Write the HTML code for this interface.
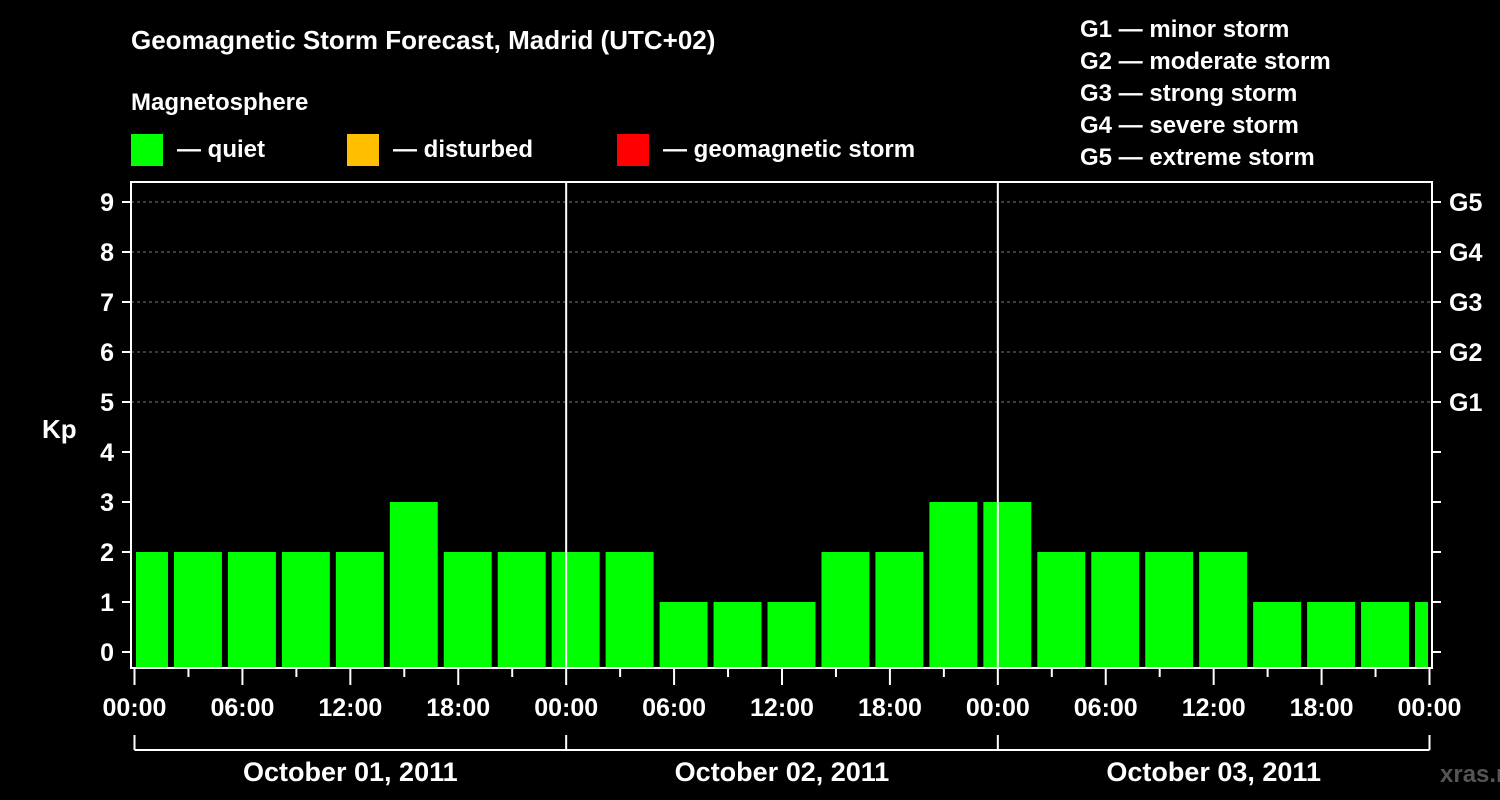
<!DOCTYPE html>
<html><head><meta charset="utf-8"><style>
body{margin:0;background:#000;}
svg{display:block;font-family:"Liberation Sans",sans-serif;font-weight:bold;}
</style></head><body>
<svg id="c" width="1500" height="800" xmlns="http://www.w3.org/2000/svg">
<rect width="1500" height="800" fill="#000"/>
<text x="131" y="49" fill="#fff" font-size="26">Geomagnetic Storm Forecast, Madrid (UTC+02)</text>
<text x="131" y="110" fill="#fff" font-size="24">Magnetosphere</text>
<g><rect x="131" y="134" width="32" height="32" fill="#00ff00"/><text x="177" y="157" fill="#fff" font-size="24">— quiet</text></g>
<g><rect x="347" y="134" width="32" height="32" fill="#ffbf00"/><text x="393" y="157" fill="#fff" font-size="24">— disturbed</text></g>
<g><rect x="617" y="134" width="32" height="32" fill="#ff0000"/><text x="663" y="157" fill="#fff" font-size="24">— geomagnetic storm</text></g>
<g fill="#fff" font-size="24">
<text x="1080" y="37">G1 — minor storm</text><text x="1080" y="69">G2 — moderate storm</text><text x="1080" y="101">G3 — strong storm</text><text x="1080" y="133">G4 — severe storm</text><text x="1080" y="165">G5 — extreme storm</text></g>
<text x="42" y="438" fill="#fff" font-size="26">Kp</text>
<text x="1440" y="782" fill="#555" font-size="24">xras.ru</text>
<g id="plot"></g>
</svg>
<script>
const values=[2,2,2,2,2,3,2,2,2,2,1,1,1,2,2,3,3,2,2,2,2,1,1,1,1];
const yTicks=[0,1,2,3,4,5,6,7,8,9];
const gLabels=["G1","G2","G3","G4","G5"];
const xLabels=["00:00","06:00","12:00","18:00","00:00","06:00","12:00","18:00","00:00","06:00","12:00","18:00","00:00"];
const dates=["October 01, 2011","October 02, 2011","October 03, 2011"];
const X0=134.5,X1=1429.5,PX0=131,PX1=1432,PTOP=182,PBOT=668;
const x=h=>X0+(X1-X0)*h/72;
const y=v=>652-50*v;
const ns="http://www.w3.org/2000/svg";
const P=document.getElementById('plot');
function mk(t,a,p){const e=document.createElementNS(ns,t);for(const k in a)e.setAttribute(k,a[k]);(p||P).appendChild(e);return e;}
// grid
yTicks.forEach(v=>{if(v>=5){const l=mk('line',{x1:PX0,x2:PX1,y1:y(v),y2:y(v),stroke:'#777','stroke-dasharray':'3,3','stroke-width':1});}});
// bars
values.forEach((v,i)=>{let h0=-1+3*i,h1=h0+3;let a=Math.max(x(h0)+3.5,X0+1.5),b=Math.min(x(h1)-2.5,X1-1.5);
const r=mk('rect',{x:a,y:y(v),width:b-a,height:PBOT-1-y(v),fill:v>=5?'#ff0000':(v>=4?'#ffbf00':'#00ff00')});

});
// day separators
[1,2].forEach(d=>{const l=mk('line',{x1:x(24*d),x2:x(24*d),y1:PTOP,y2:PBOT,stroke:'#fff','stroke-width':2});});
// frame
const f=mk('rect',{x:PX0,y:PTOP,width:PX1-PX0,height:PBOT-PTOP,fill:'none',stroke:'#fff','stroke-width':2});

// y ticks
yTicks.forEach(v=>{mk('line',{x1:122,x2:PX0,y1:y(v),y2:y(v),stroke:'#fff','stroke-width':2});mk('line',{x1:PX1,x2:1441,y1:y(v),y2:y(v),stroke:'#fff','stroke-width':2});
const t=mk('text',{x:114,y:y(v)+9,fill:'#fff','font-size':25,'text-anchor':'end'});t.textContent=v;
});
gLabels.forEach((g,i)=>{const t=mk('text',{x:1449,y:y(5+i)+9,fill:'#fff','font-size':25});t.textContent=g;
});
// x ticks
for(let h=0;h<=72;h+=3){const major=h%6==0;mk('line',{x1:x(h),x2:x(h),y1:PBOT,y2:major?685:677,stroke:'#fff','stroke-width':2});}
xLabels.forEach((s,i)=>{const t=mk('text',{x:x(6*i),y:716,fill:'#fff','font-size':25,'text-anchor':'middle'});t.textContent=s;
});
// date bracket
mk('line',{x1:X0,x2:X1,y1:750,y2:750,stroke:'#fff','stroke-width':2});
for(let d=0;d<=3;d++)mk('line',{x1:x(24*d),x2:x(24*d),y1:735,y2:750,stroke:'#fff','stroke-width':2});
dates.forEach((s,i)=>{const t=mk('text',{x:x(24*i+12),y:781,fill:'#fff','font-size':27,'text-anchor':'middle'});t.textContent=s;
});
</script>
</body></html>
